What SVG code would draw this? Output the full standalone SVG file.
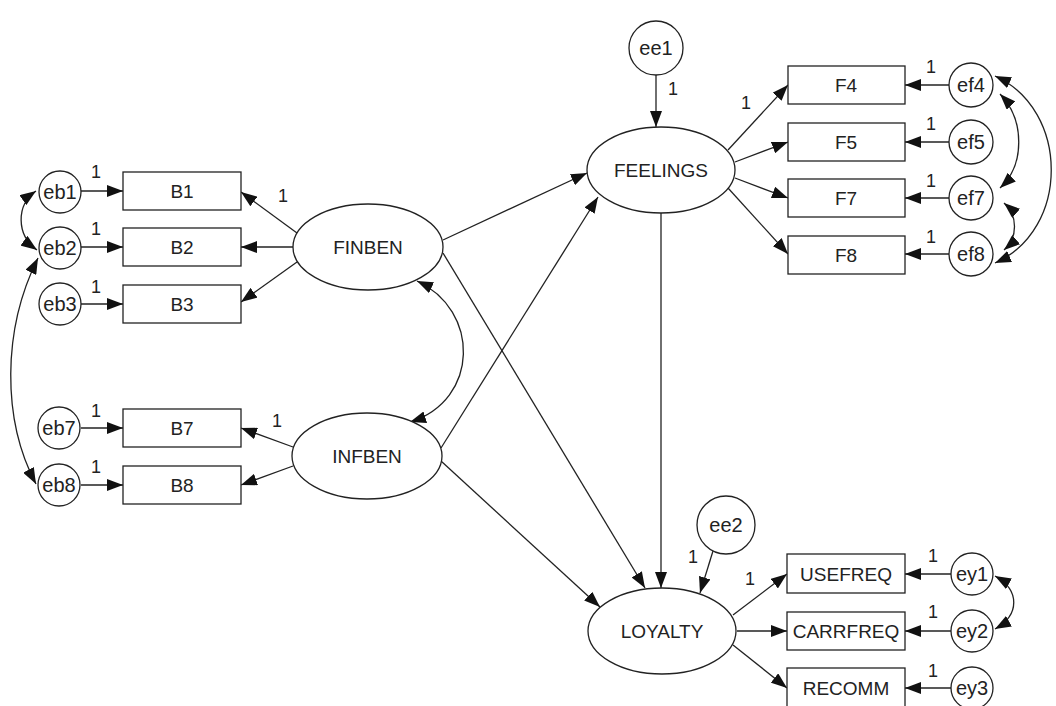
<svg xmlns="http://www.w3.org/2000/svg" width="1056" height="706" viewBox="0 0 1056 706">
  <defs>
    <marker id="arr" viewBox="0 0 16 12" refX="16" refY="6" markerWidth="16" markerHeight="12" markerUnits="userSpaceOnUse" orient="auto-start-reverse">
      <path d="M0,0 L16,6 L0,12 z" fill="#111"/>
    </marker>
  </defs>
  <style>
    .shape { fill: #fff; stroke: #222; stroke-width: 1.3; }
    .edge { fill: none; stroke: #222; stroke-width: 1.3; marker-end: url(#arr); }
    .cov { fill: none; stroke: #222; stroke-width: 1.3; marker-start: url(#arr); marker-end: url(#arr); }
    .lbl { font-family: "Liberation Sans", Arial, sans-serif; font-size: 19px; fill: #222; text-anchor: middle; }
    .sm { font-family: "Liberation Sans", Arial, sans-serif; font-size: 20px; fill: #222; text-anchor: middle; }
    .one { font-family: "Liberation Sans", Arial, sans-serif; font-size: 18px; fill: #222; text-anchor: middle; }
  </style>

  <!-- connectors -->
  <g id="connectors">
    <!-- error terms to indicators -->
    <line class="edge" x1="81" y1="191" x2="123" y2="191"/>
    <line class="edge" x1="81" y1="247" x2="123" y2="247"/>
    <line class="edge" x1="81" y1="304" x2="123" y2="304"/>
    <line class="edge" x1="81" y1="428" x2="123" y2="428"/>
    <line class="edge" x1="81" y1="485" x2="123" y2="485"/>

    <!-- FINBEN loadings -->
    <line class="edge" x1="297" y1="233" x2="241" y2="192"/>
    <line class="edge" x1="293" y1="247" x2="241" y2="247"/>
    <line class="edge" x1="297" y1="262" x2="241" y2="302"/>
    <!-- INFBEN loadings -->
    <line class="edge" x1="293" y1="447" x2="241" y2="428"/>
    <line class="edge" x1="293" y1="466" x2="241" y2="485"/>

    <!-- structural paths -->
    <line class="edge" x1="443" y1="240" x2="587" y2="173"/>
    <line class="edge" x1="441" y1="448" x2="598" y2="197"/>
    <line class="edge" x1="443" y1="253" x2="645" y2="588"/>
    <line class="edge" x1="441" y1="461" x2="600" y2="607"/>
    <line class="edge" x1="661" y1="213" x2="661" y2="588"/>
    <line class="edge" x1="656" y1="75" x2="656" y2="127"/>
    <line class="edge" x1="713" y1="551" x2="700" y2="593"/>

    <!-- FEELINGS loadings -->
    <line class="edge" x1="728" y1="150" x2="788" y2="85"/>
    <line class="edge" x1="735" y1="162" x2="788" y2="142"/>
    <line class="edge" x1="735" y1="178" x2="788" y2="198"/>
    <line class="edge" x1="728" y1="188" x2="788" y2="254"/>
    <line class="edge" x1="949" y1="85" x2="905" y2="85"/>
    <line class="edge" x1="949" y1="142" x2="905" y2="142"/>
    <line class="edge" x1="949" y1="198" x2="905" y2="198"/>
    <line class="edge" x1="949" y1="254" x2="905" y2="254"/>

    <!-- LOYALTY loadings -->
    <line class="edge" x1="733" y1="615" x2="787" y2="574"/>
    <line class="edge" x1="737" y1="631" x2="787" y2="631"/>
    <line class="edge" x1="733" y1="645" x2="787" y2="688"/>
    <line class="edge" x1="951" y1="574" x2="905" y2="574"/>
    <line class="edge" x1="951" y1="631" x2="905" y2="631"/>
    <line class="edge" x1="951" y1="688" x2="905" y2="688"/>

    <!-- covariances -->
    <path class="cov" d="M36,191 C16,205 16,235 37,250"/>
    <path class="cov" d="M38,258 C2,330 2,420 36,484"/>
    <path class="cov" d="M417,281 C480,310 480,400 410,422"/>
    <path class="cov" d="M1000,94 C1025,120 1025,165 1000,188"/>
    <path class="cov" d="M1004,203 C1018,215 1018,238 1004,250"/>
    <path class="cov" d="M995,76 C1070,110 1070,230 995,263"/>
    <path class="cov" d="M995,576 C1020,590 1020,615 995,629"/>
  </g>

  <!-- fixed-parameter labels -->
  <g id="weights">
    <text class="one" x="96" y="178">1</text>
    <text class="one" x="96" y="235">1</text>
    <text class="one" x="96" y="293">1</text>
    <text class="one" x="96" y="417">1</text>
    <text class="one" x="96" y="473">1</text>
    <text class="one" x="283" y="202">1</text>
    <text class="one" x="277" y="427">1</text>
    <text class="one" x="673" y="95">1</text>
    <text class="one" x="746" y="109">1</text>
    <text class="one" x="931" y="73">1</text>
    <text class="one" x="931" y="130">1</text>
    <text class="one" x="931" y="187">1</text>
    <text class="one" x="931" y="243">1</text>
    <text class="one" x="693" y="563">1</text>
    <text class="one" x="750" y="585">1</text>
    <text class="one" x="933" y="562">1</text>
    <text class="one" x="933" y="618">1</text>
    <text class="one" x="933" y="677">1</text>
  </g>

  <!-- latent variables -->
  <g id="FINBEN"><ellipse class="shape" cx="368" cy="247" rx="75" ry="43"/><text class="lbl" x="368" y="254">FINBEN</text></g>
  <g id="INFBEN"><ellipse class="shape" cx="367" cy="456" rx="75" ry="43"/><text class="lbl" x="367" y="463">INFBEN</text></g>
  <g id="FEELINGS"><ellipse class="shape" cx="661" cy="170" rx="74" ry="43"/><text class="lbl" x="661" y="177">FEELINGS</text></g>
  <g id="LOYALTY"><ellipse class="shape" cx="662" cy="631" rx="74" ry="43"/><text class="lbl" x="662" y="638">LOYALTY</text></g>

  <!-- disturbances -->
  <g id="ee1"><circle class="shape" cx="656" cy="48" r="27"/><text class="sm" x="656" y="55">ee1</text></g>
  <g id="ee2"><circle class="shape" cx="726" cy="525" r="29"/><text class="sm" x="726" y="532">ee2</text></g>

  <!-- observed indicators -->
  <g id="B1"><rect class="shape" x="123" y="172" width="118" height="38"/><text class="lbl" x="182" y="198">B1</text></g>
  <g id="B2"><rect class="shape" x="123" y="228" width="118" height="38"/><text class="lbl" x="182" y="254">B2</text></g>
  <g id="B3"><rect class="shape" x="123" y="285" width="118" height="38"/><text class="lbl" x="182" y="311">B3</text></g>
  <g id="B7"><rect class="shape" x="123" y="409" width="118" height="38"/><text class="lbl" x="182" y="435">B7</text></g>
  <g id="B8"><rect class="shape" x="123" y="466" width="118" height="38"/><text class="lbl" x="182" y="492">B8</text></g>

  <g id="F4"><rect class="shape" x="788" y="66" width="117" height="38"/><text class="lbl" x="846" y="92">F4</text></g>
  <g id="F5"><rect class="shape" x="788" y="123" width="117" height="38"/><text class="lbl" x="846" y="149">F5</text></g>
  <g id="F7"><rect class="shape" x="788" y="179" width="117" height="38"/><text class="lbl" x="846" y="205">F7</text></g>
  <g id="F8"><rect class="shape" x="788" y="236" width="117" height="38"/><text class="lbl" x="846" y="262">F8</text></g>

  <g id="USEFREQ"><rect class="shape" x="787" y="554" width="118" height="39"/><text class="lbl" x="846" y="581">USEFREQ</text></g>
  <g id="CARRFREQ"><rect class="shape" x="787" y="612" width="118" height="38"/><text class="lbl" x="846" y="638">CARRFREQ</text></g>
  <g id="RECOMM"><rect class="shape" x="787" y="668" width="118" height="44"/><text class="lbl" x="846" y="695">RECOMM</text></g>

  <!-- measurement errors -->
  <g id="eb1"><circle class="shape" cx="60" cy="192" r="21"/><text class="sm" x="60" y="199">eb1</text></g>
  <g id="eb2"><circle class="shape" cx="60" cy="248" r="21"/><text class="sm" x="60" y="255">eb2</text></g>
  <g id="eb3"><circle class="shape" cx="60" cy="304" r="21"/><text class="sm" x="60" y="311">eb3</text></g>
  <g id="eb7"><circle class="shape" cx="59" cy="428" r="21"/><text class="sm" x="59" y="435">eb7</text></g>
  <g id="eb8"><circle class="shape" cx="59" cy="485" r="21"/><text class="sm" x="59" y="492">eb8</text></g>

  <g id="ef4"><circle class="shape" cx="971" cy="85" r="22"/><text class="sm" x="971" y="92">ef4</text></g>
  <g id="ef5"><circle class="shape" cx="971" cy="142" r="22"/><text class="sm" x="971" y="149">ef5</text></g>
  <g id="ef7"><circle class="shape" cx="971" cy="198" r="22"/><text class="sm" x="971" y="205">ef7</text></g>
  <g id="ef8"><circle class="shape" cx="971" cy="254" r="22"/><text class="sm" x="971" y="261">ef8</text></g>

  <g id="ey1"><circle class="shape" cx="972" cy="574" r="21"/><text class="sm" x="972" y="581">ey1</text></g>
  <g id="ey2"><circle class="shape" cx="972" cy="631" r="21"/><text class="sm" x="972" y="638">ey2</text></g>
  <g id="ey3"><circle class="shape" cx="972" cy="688" r="21"/><text class="sm" x="972" y="695">ey3</text></g>
</svg>
